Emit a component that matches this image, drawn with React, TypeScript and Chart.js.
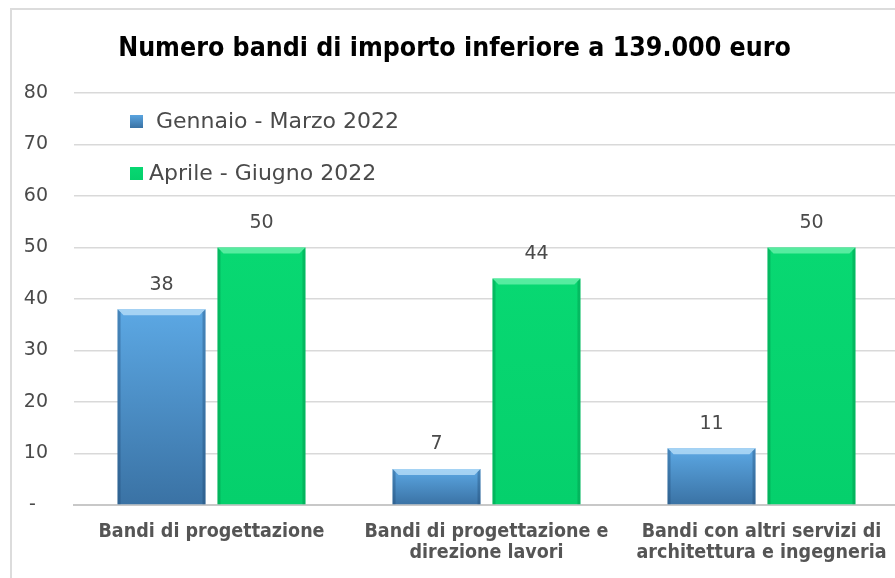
import React, { useEffect, useRef } from "react";
import { Chart, registerables } from "chart.js";

Chart.register(...registerables);

const TITLE = "Numero bandi di importo inferiore a 139.000 euro";
const categories: string[][] = [
  ["Bandi di progettazione"],
  ["Bandi di progettazione e", "direzione lavori"],
  ["Bandi con altri servizi di", "architettura e ingegneria"],
];
const seriesNames = [" Gennaio - Marzo 2022", "Aprile - Giugno 2022"];
const gennaioMarzo = [38, 7, 11];
const aprileGiugno = [50, 44, 50];
const yTicks = [0, 10, 20, 30, 40, 50, 60, 70, 80];

const TXT = "#4a4a4a";
const CONDENSED = "'DejaVu Sans Condensed', 'DejaVu Sans', sans-serif";
const ROUND = "'DejaVu Sans', sans-serif";

const palettes = [
  { top: "#5ca8e4", bottom: "#3a72a4", bevelTop: "rgba(190,225,250,0.75)", side: "rgba(30,70,110,0.35)" },
  { top: "#08d872", bottom: "#05d06c", bevelTop: "rgba(120,245,180,0.7)", side: "rgba(0,120,60,0.3)" },
];

function gradientFor(pi: number) {
  return (c: any) => {
    const p = palettes[pi];
    const chart = c.chart;
    if (!chart.chartArea || c.type !== "data") return p.top;
    const ys = chart.scales.y;
    const top = ys.getPixelForValue(c.raw);
    const base = ys.getPixelForValue(0);
    const g = chart.ctx.createLinearGradient(0, top, 0, base);
    g.addColorStop(0, p.top);
    g.addColorStop(1, p.bottom);
    return g;
  };
}

const bevelPlugin = {
  id: "bevel",
  afterDatasetsDraw(chart: any) {
    const ctx = chart.ctx;
    chart.data.datasets.forEach((_ds: any, di: number) => {
      const p = palettes[di];
      chart.getDatasetMeta(di).data.forEach((el: any) => {
        const { x, y, base, width } = el.getProps(["x", "y", "base", "width"], true);
        const l = x - width / 2;
        const r = x + width / 2;
        const b = 6;
        ctx.save();
        ctx.fillStyle = p.bevelTop;
        ctx.beginPath();
        ctx.moveTo(l, y);
        ctx.lineTo(r, y);
        ctx.lineTo(r - b, y + b);
        ctx.lineTo(l + b, y + b);
        ctx.closePath();
        ctx.fill();
        ctx.fillStyle = p.side;
        ctx.beginPath();
        ctx.moveTo(l, y);
        ctx.lineTo(l + 3, y + 3);
        ctx.lineTo(l + 3, base);
        ctx.lineTo(l, base);
        ctx.closePath();
        ctx.fill();
        ctx.beginPath();
        ctx.moveTo(r, y);
        ctx.lineTo(r - 3, y + 3);
        ctx.lineTo(r - 3, base);
        ctx.lineTo(r, base);
        ctx.closePath();
        ctx.fill();
        ctx.restore();
      });
    });
  },
};

const labelsPlugin = {
  id: "valueLabels",
  afterDatasetsDraw(chart: any) {
    const ctx = chart.ctx;
    ctx.save();
    ctx.font = `19px ${ROUND}`;
    ctx.fillStyle = TXT;
    ctx.textAlign = "center";
    ctx.textBaseline = "bottom";
    chart.data.datasets.forEach((ds: any, di: number) => {
      chart.getDatasetMeta(di).data.forEach((el: any, i: number) => {
        ctx.fillText(String(ds.data[i]), el.x, el.y - 15);
      });
    });
    ctx.restore();
  },
};

const legendPlugin = {
  id: "innerLegend",
  afterDraw(chart: any) {
    const ctx = chart.ctx;
    const area = chart.chartArea;
    ctx.save();
    ctx.font = `22px ${ROUND}`;
    ctx.textBaseline = "middle";
    chart.data.datasets.forEach((ds: any, di: number) => {
      const cy = area.top + 28 + di * 52;
      const mx = area.left + 56;
      const g = ctx.createLinearGradient(0, cy - 7, 0, cy + 7);
      g.addColorStop(0, palettes[di].top);
      g.addColorStop(1, palettes[di].bottom);
      ctx.fillStyle = g;
      ctx.fillRect(mx, cy - 6, 13, 13);
      ctx.fillStyle = TXT;
      ctx.fillText(ds.label, mx + 19, cy + 1);
    });
    ctx.restore();
  },
};

export default function App() {
  const ref = useRef<HTMLCanvasElement>(null);
  useEffect(() => {
    if (!ref.current) return;
    const chart = new Chart(ref.current, {
      type: "bar",
      data: {
        labels: categories,
        datasets: [
          { label: seriesNames[0], data: gennaioMarzo, backgroundColor: gradientFor(0) },
          { label: seriesNames[1], data: aprileGiugno, backgroundColor: gradientFor(1) },
        ],
      },
      options: {
        animation: false,
        responsive: false,
        layout: { padding: { left: 10, right: 6, top: 0, bottom: 0 } },
        plugins: {
          legend: { display: false },
          tooltip: { enabled: false },
          title: {
            display: true,
            text: TITLE,
            color: "#000",
            font: { family: CONDENSED, size: 26.5, weight: "bold", lineHeight: 1.2 },
            padding: { top: 33, bottom: 28.2 },
          },
        },
        datasets: { bar: { categoryPercentage: 0.727, barPercentage: 0.88 } },
        scales: {
          x: {
            grid: { display: false, drawTicks: false },
            border: { display: true, color: "#c8c8c8", width: 2 },
            ticks: {
              color: "#555555",
              font: { family: CONDENSED, size: 19.5, weight: "bold", lineHeight: 1.1 },
              padding: 16,
              maxRotation: 0,
              autoSkip: false,
            },
            afterFit(scale: any) {
              scale.height = 73;
            },
          },
          y: {
            min: 0,
            max: 80,
            afterBuildTicks(scale: any) {
              scale.ticks = yTicks.map((v) => ({ value: v }));
            },
            grid: { color: "#d9d9d9", lineWidth: 1.5, drawTicks: false },
            border: { display: false },
            ticks: {
              color: TXT,
              font: { family: ROUND, size: 19 },
              padding: 26,
              callback: (v: any) => (v === 0 ? "-  " : String(v)),
            },
            afterFit(scale: any) {
              scale.width = 64;
            },
          },
        },
      },
      plugins: [bevelPlugin, labelsPlugin, legendPlugin],
    });
    return () => chart.destroy();
  }, []);

  return (
    <div style={{ position: "absolute", left: 0, top: 0, width: 895, height: 578, overflow: "hidden", background: "#fff" }}>
      <div
        style={{
          position: "absolute",
          left: 10,
          top: 8,
          width: 920,
          height: 620,
          border: "2px solid #dcdcdc",
          boxSizing: "border-box",
        }}
      />
      <canvas ref={ref} width={905} height={578} style={{ position: "absolute", left: 0, top: 0 }} />
    </div>
  );
}
